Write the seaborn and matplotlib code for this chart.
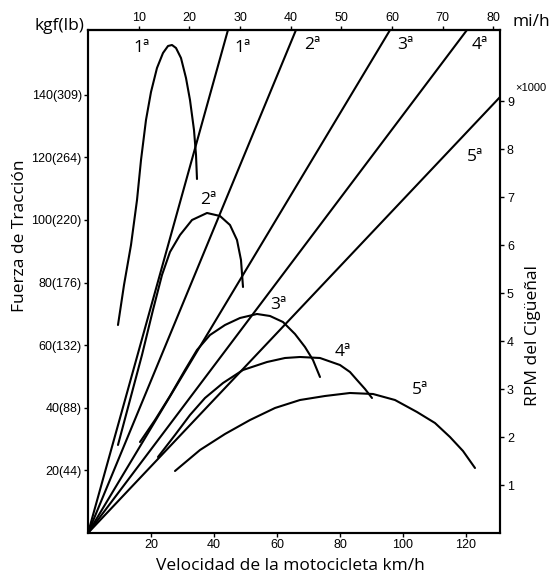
import matplotlib
matplotlib.use("Agg")
import numpy as np
import pandas as pd
import matplotlib.pyplot as plt
import seaborn as sns

# ---------------- data ----------------
# Traction force curves: speed (km/h) vs force (kgf)
g1_speed = [9.52, 11.43, 13.65, 15.56, 16.83, 18.41, 20.0, 21.90, 23.81, 25.40,
            26.67, 27.94, 29.52, 31.11, 32.38, 33.65, 34.29, 34.60]
g1_force = [66.45, 79.23, 92.01, 106.39, 119.17, 131.95, 140.89, 148.56, 153.35,
            155.59, 155.91, 154.95, 151.76, 145.37, 138.34, 128.75, 120.77, 113.10]

g2_speed = [9.52, 13.33, 17.14, 20.63, 23.49, 26.03, 29.21, 33.02, 37.78, 41.90,
            45.08, 47.30, 48.57, 49.21]
g2_force = [28.12, 42.49, 56.87, 71.25, 82.43, 89.78, 95.21, 100.0, 102.24, 101.28,
            98.40, 93.61, 87.22, 78.59]

g3_speed = [16.51, 21.27, 26.03, 30.79, 34.60, 38.73, 43.49, 48.25, 53.65, 57.78,
            61.90, 65.71, 68.89, 71.43, 73.65]
g3_force = [29.07, 36.10, 43.77, 52.08, 58.47, 63.26, 66.45, 68.69, 69.97, 69.33,
            67.41, 63.58, 59.42, 55.27, 49.84]

g4_speed = [22.22, 27.62, 32.38, 37.14, 42.86, 49.21, 56.83, 62.54, 67.30, 73.65,
            80.0, 83.17, 85.40, 87.94, 90.16]
g4_force = [24.28, 31.31, 37.70, 43.13, 47.92, 52.08, 54.63, 55.91, 56.23, 55.91,
            53.67, 51.44, 48.88, 46.01, 43.13]

g5_speed = [27.62, 35.56, 43.49, 51.43, 59.37, 67.30, 75.24, 83.17, 90.48, 97.46,
            104.44, 110.16, 114.92, 119.05, 122.86]
g5_force = [19.81, 26.52, 31.63, 36.10, 39.94, 42.49, 43.77, 44.73, 44.41, 42.49,
            38.66, 35.14, 30.67, 26.20, 20.77]

# Crankshaft RPM lines: km/h per 1000 rpm for each gear
gears = ["1ª", "2ª", "3ª", "4ª", "5ª"]
kmh_per_krpm = [4.24, 6.30, 9.15, 11.48, 14.40]

# Axis ticks
force_ticks = [20, 40, 60, 80, 100, 120, 140]
force_lb = [44, 88, 132, 176, 220, 264, 309]
speed_ticks = [20, 40, 60, 80, 100, 120]
mph_ticks = [10, 20, 30, 40, 50, 60, 70, 80]
rpm_ticks = [1, 2, 3, 4, 5, 6, 7, 8, 9]

# ---------------- plotting ----------------
sns.set_theme(style="ticks")
plt.rcParams['font.family'] = ['Open Sans', 'DejaVu Sans']
tick_font = ['Liberation Sans Narrow', 'Liberation Sans', 'DejaVu Sans']

W, H = 556, 580
fig = plt.figure(figsize=(W / 100, H / 100), dpi=100)
ax = fig.add_axes([88 / W, 47 / H, 412 / W, 503 / H])
ax2 = ax.twinx()

X_MAX, F_MAX, R_MAX = 130.8, 160.7, 10.48
ax.set_xlim(0, X_MAX)
ax.set_ylim(0, F_MAX)
ax2.set_ylim(0, R_MAX)

lw = 1.5
curves = [(g1_speed, g1_force), (g2_speed, g2_force), (g3_speed, g3_force),
          (g4_speed, g4_force), (g5_speed, g5_force)]
for sp, fo in curves:
    df = pd.DataFrame({"v": sp, "f": fo})
    sns.lineplot(data=df, x="v", y="f", ax=ax, color="black", lw=lw,
                 sort=False, estimator=None)

rpm_grid = np.array([0.0, R_MAX])
for g, k in zip(gears, kmh_per_krpm):
    df = pd.DataFrame({"v": k * rpm_grid, "r": rpm_grid})
    sns.lineplot(data=df, x="v", y="r", ax=ax2, color="black", lw=lw,
                 sort=False, estimator=None)
ax2.set_xlim(0, X_MAX)

# spines
for a in (ax, ax2):
    for s in a.spines.values():
        s.set_linewidth(1.5)
        s.set_color("black")
        s.set_visible(True)

ax.set_xlabel("")
ax.set_ylabel("")
ax2.set_ylabel("")

# left ticks
ax.set_yticks(force_ticks)
ax.set_yticklabels([f"{a}({b})" for a, b in zip(force_ticks, force_lb)],
                   family=tick_font, fontsize=9)
ax.set_xticks(speed_ticks)
ax.set_xticklabels([str(v) for v in speed_ticks], family=tick_font, fontsize=9)
ax.tick_params(axis="both", direction="out", length=3, width=1, pad=1.5,
               colors="black")

# right ticks
ax2.set_yticks(rpm_ticks)
ax2.set_yticklabels([str(v) for v in rpm_ticks], family=tick_font, fontsize=9)
ax2.tick_params(axis="y", direction="out", length=3, width=1, pad=2,
                colors="black")

# top mph axis
top = ax.secondary_xaxis("top", functions=(lambda x: x / 1.609, lambda x: x * 1.609))
top.set_xticks(mph_ticks)
top.set_xticklabels([str(v) for v in mph_ticks], family=tick_font, fontsize=9)
top.tick_params(direction="out", length=3, width=1, pad=1.5, colors="black")
top.spines["top"].set_linewidth(1.5)

# axis titles
fig.text(290 / W, 1 - 566 / H, "Velocidad de la motocicleta km/h",
         ha="center", va="center", fontsize=12.5, color="black")
fig.text(20 / W, 1 - 236 / H, "Fuerza de Tracción", rotation=90,
         ha="center", va="center", fontsize=12.5, color="black")
fig.text(533 / W, 1 - 336 / H, "RPM del Cigüeñal", rotation=90,
         ha="center", va="center", fontsize=12.5, color="black")
fig.text(59 / W, 1 - 26 / H, "kgf(lb)", ha="center", va="center",
         fontsize=12.5, color="black")
fig.text(531 / W, 1 - 22 / H, "mi/h", ha="center", va="center",
         fontsize=12.5, color="black")
fig.text(531 / W, 1 - 88 / H, "×1000", ha="center", va="center",
         fontsize=8, color="black", family=tick_font)

# gear labels
def px(x, y):
    return ((x - 88) / 3.15, (533 - y) / 3.13)

label_pos = [
    ("1ª", 142, 48), ("1ª", 243, 48), ("2ª", 312, 45), ("3ª", 405, 45),
    ("4ª", 480, 45), ("5ª", 475, 157), ("2ª", 208, 200), ("3ª", 278, 305),
    ("4ª", 343, 352), ("5ª", 420, 390),
]
for t, x, y in label_pos:
    dx, dy = px(x, y)
    ax.text(dx, dy, t, ha="center", va="center", fontsize=12.5, color="black")

fig.savefig("out.png", dpi=100, facecolor="white")
